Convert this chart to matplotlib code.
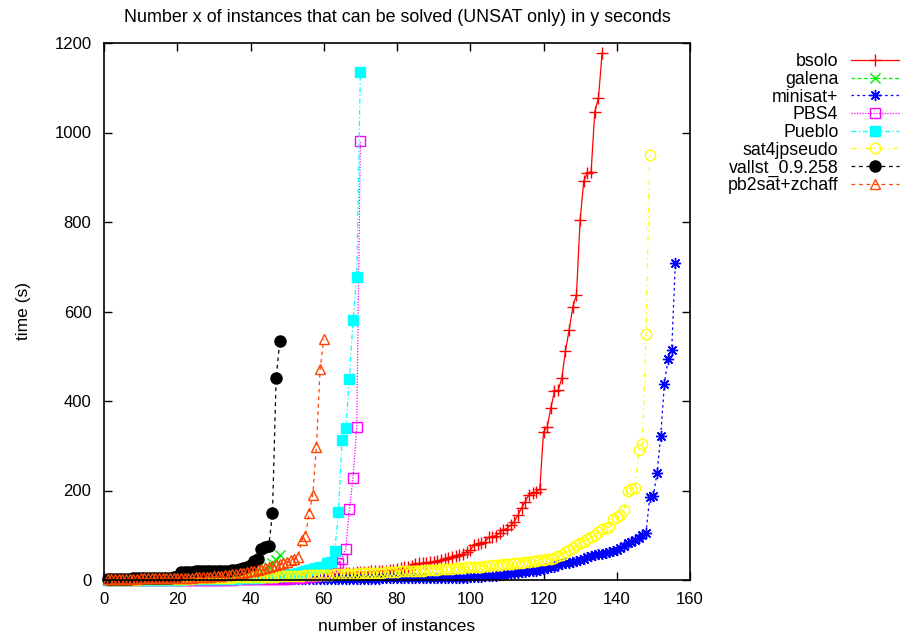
import matplotlib
matplotlib.use("Agg")
import matplotlib.pyplot as plt

# sorted solving times (s) per solver; x = number of instances solved
bsolo = [0.5, 0.6, 0.7, 0.8, 0.9, 1.0, 1.1, 1.2, 1.3, 1.5,
         1.6, 1.8, 2.0, 2.2, 2.4, 2.6, 2.8, 3.0, 3.2, 3.4,
         3.6, 3.8, 4.0, 4.2, 4.4, 4.6, 4.8, 5.0, 5.2, 5.4,
         5.6, 5.8, 6.0, 6.2, 6.4, 6.6, 6.8, 7.0, 7.2, 7.4,
         7.6, 7.8, 8.0, 8.2, 8.4, 8.6, 8.8, 9.0, 9.2, 9.5,
         9.8, 10.0, 10.3, 10.6, 11.0, 11.3, 11.6, 12.0, 12.3, 12.6,
         13.0, 13.5, 14.0, 14.5, 15.0, 15.5, 16.0, 16.5, 17.0, 17.5,
         18.0, 18.5, 19.0, 19.5, 20.0, 20.5, 21.0, 22.0, 23.0, 24.0,
         26, 28, 30, 32, 35, 37, 38, 39, 40, 41,
         42, 44, 46, 49, 52, 53, 55, 58, 63, 67,
         78, 80, 82, 85, 95, 97, 99, 105, 112, 115,
         122, 130, 145, 161, 175, 190, 194, 197, 203, 331,
         342, 384, 422, 424, 451, 512, 559, 610, 637, 804,
         892, 909, 912, 1046, 1077, 1177]

galena = [0.5, 0.6, 0.7, 0.8, 0.9, 1.0, 1.1, 1.2, 1.3, 1.4,
          1.5, 1.6, 1.7, 1.8, 1.9, 2.0, 2.1, 2.2, 2.3, 2.4,
          2.5, 2.6, 2.7, 2.8, 2.9, 3.0, 3.2, 3.4, 3.6, 3.8,
          4.0, 4.3, 4.6, 5.0, 5.5, 6.0, 7.0, 8.0, 9.0, 10,
          12, 15, 18, 22, 30, 38, 45, 56]

minisat = [0.1, 0.1, 0.1, 0.2, 0.2, 0.2, 0.2, 0.3, 0.3, 0.3,
           0.3, 0.4, 0.4, 0.4, 0.5, 0.5, 0.5, 0.6, 0.6, 0.6,
           0.7, 0.7, 0.7, 0.8, 0.8, 0.9, 0.9, 1.0, 1.0, 1.1,
           1.1, 1.2, 1.2, 1.3, 1.3, 1.4, 1.4, 1.5, 1.5, 1.6,
           1.6, 1.7, 1.7, 1.8, 1.8, 1.9, 1.9, 2.0, 2.0, 2.1,
           2.1, 2.2, 2.2, 2.3, 2.3, 2.4, 2.4, 2.5, 2.5, 2.6,
           2.6, 2.7, 2.7, 2.8, 2.8, 2.9, 2.9, 3.0, 3.0, 3.1,
           3.1, 3.2, 3.2, 3.3, 3.3, 3.4, 3.4, 3.5, 3.5, 3.6,
           3.6, 3.7, 3.7, 3.8, 3.8, 3.9, 3.9, 4.0, 4.0, 4.1,
           4.2, 4.3, 4.4, 4.5, 4.6, 4.8, 5.0, 5.2, 5.5, 6.0,
           6.5, 7.0, 7.5, 8.0, 9.0, 9.5, 10, 11, 12, 13,
           14, 15, 16, 17, 18, 19, 20, 21, 22, 24,
           26, 28, 30, 33, 35, 37, 39, 41, 43, 45,
           48, 52, 54, 56, 58, 59, 61, 63, 65, 68,
           72, 76, 82, 86, 89, 94, 101, 106, 186, 188,
           239, 322, 438, 494, 514, 708]

pbs4 = [0.01, 0.01, 0.02, 0.02, 0.03, 0.03, 0.04, 0.04, 0.05, 0.05,
        0.06, 0.07, 0.08, 0.09, 0.1, 0.1, 0.1, 0.2, 0.2, 0.2,
        0.2, 0.3, 0.3, 0.3, 0.4, 0.4, 0.5, 0.5, 0.6, 0.6,
        0.7, 0.8, 0.9, 1.0, 1.1, 1.2, 1.3, 1.4, 1.5, 1.6,
        1.7, 1.8, 1.9, 2.0, 2.2, 2.4, 2.6, 2.8, 3.0, 3.3,
        3.6, 4.0, 4.5, 5, 6, 7, 8, 10, 12, 15,
        18, 22, 28, 37, 48, 69, 158, 229, 341, 981]

pueblo = [0.1, 0.1, 0.2, 0.2, 0.3, 0.3, 0.4, 0.4, 0.5, 0.5,
          0.6, 0.6, 0.7, 0.7, 0.8, 0.8, 0.9, 0.9, 1.0, 1.0,
          1.1, 1.2, 1.3, 1.4, 1.5, 1.6, 1.7, 1.8, 1.9, 2.0,
          2.2, 2.4, 2.6, 2.8, 3.0, 3.2, 3.4, 3.6, 3.8, 4.0,
          5.0, 5.5, 6.0, 6.5, 7.0, 8.0, 9.0, 10, 11, 12,
          13, 14, 15, 17, 19, 22, 25, 27, 28, 30,
          37, 41, 65, 151, 313, 339, 449, 581, 678, 1136]

sat4j = [0.3, 0.4, 0.5, 0.6, 0.7, 0.8, 0.9, 1.0, 1.1, 1.2,
         1.3, 1.4, 1.5, 1.6, 1.7, 1.8, 1.9, 2.0, 2.2, 2.4,
         2.6, 2.8, 3.0, 3.2, 3.4, 3.6, 3.8, 4.0, 4.2, 4.4,
         4.6, 4.8, 5.0, 5.2, 5.4, 5.6, 5.8, 6.0, 6.2, 6.4,
         6.6, 6.8, 7.0, 7.2, 7.4, 7.6, 7.8, 8.0, 8.3, 8.6,
         8.9, 9.2, 9.5, 9.8, 10.1, 10.4, 10.7, 11.0, 11.3, 11.6,
         11.9, 12.2, 12.5, 12.8, 13.1, 13.4, 13.7, 14.0, 14.3, 14.6,
         14.9, 15.2, 15.5, 15.8, 16.0, 16.5, 17.0, 17.5, 18.0, 18.5,
         19.0, 19.0, 19.2, 19.5, 20.0, 20.5, 21.0, 21.5, 22.0, 22.5,
         23, 23.5, 24, 25, 25, 26, 26.5, 27, 28, 28,
         29, 30, 30, 31, 32, 33, 34, 34, 35, 35,
         36, 37, 38, 39, 40, 41, 42, 43, 44, 45,
         46, 48, 50, 53, 56, 62, 67, 72, 78, 82,
         86, 92, 96, 101, 108, 114, 116, 118, 136, 141,
         145, 156, 200, 203, 206, 290, 304, 550, 950]

vallst = [2.0, 2.2, 2.4, 2.6, 2.8, 3.0, 3.2, 3.4, 3.6, 3.8,
          4.0, 4.2, 4.4, 4.6, 4.8, 5.0, 5.2, 5.4, 5.6, 6.0,
          18, 18, 18.5, 18.5, 19, 19, 19, 19.5, 19.5, 20,
          20, 20.5, 21, 21, 21.5, 22, 24, 26, 28, 33,
          43, 48, 69, 73, 76, 149, 452, 533]

pb2sat = [2.5, 2.6, 2.7, 2.8, 2.9, 3.0, 3.1, 3.2, 3.3, 3.4,
          3.5, 3.6, 3.7, 3.8, 3.9, 4.0, 4.1, 4.2, 4.3, 4.4,
          4.6, 4.8, 5.0, 5.3, 5.6, 6.0, 6.5, 7.0, 7.5, 8.0,
          9, 10, 11, 12, 13, 14, 15, 16, 18, 19,
          21, 23, 25, 27, 29, 31, 34, 36, 38, 41,
          45, 48, 52, 89, 98, 149, 191, 298, 471, 538]

series = [
    ('bsolo', bsolo, '#ff0000', '+', 'full', '-', 8),
    ('galena', galena, '#00ee00', 'x', 'full', (0, (3, 2)), 7),
    ('minisat+', minisat, '#0000ff', (8, 2, 0), 'full', (0, (2, 2.5)), 8),
    ('PBS4', pbs4, '#ff00ff', 's', 'none', (0, (1, 1.2)), 7),
    ('Pueblo', pueblo, '#00ffff', 's', 'full', (0, (4, 2, 1, 2)), 7.5),
    ('sat4jpseudo', sat4j, '#ffff00', 'o', 'none', (0, (4, 3, 1, 3)), 7.5),
    ('vallst_0.9.258', vallst, '#000000', 'o', 'full', (0, (3, 3)), 8),
    ('pb2sat+zchaff', pb2sat, '#ff4500', '^', 'none', (0, (3, 3)), 7.5),
]

plt.rcParams['font.family'] = ['Liberation Sans', 'DejaVu Sans']

fig = plt.figure(figsize=(9.02, 6.39), dpi=100)
ax = fig.add_axes([104 / 902, 1 - 580 / 639, (690 - 104) / 902, (580 - 43) / 639])

for nombre, tiempos, color, marca, relleno, estilo, tam in series:
    xs = list(range(1, len(tiempos) + 1))
    ax.plot(xs, tiempos, color=color, linestyle=estilo, linewidth=0.9,
            marker=marca, markersize=tam, fillstyle=relleno,
            markeredgewidth=1.0, label=nombre, clip_on=False)

ax.set_xlim(0, 160)
ax.set_ylim(0, 1200)
ax.set_xticks(range(0, 161, 20))
ax.set_yticks(range(0, 1201, 200))
ax.tick_params(direction='in', length=6, width=1, top=True, right=True,
               labelsize=12, pad=9)
for s in ax.spines.values():
    s.set_linewidth(1.2)

ax.set_title('Number x of instances that can be solved (UNSAT only) in y seconds',
             fontsize=12.9, pad=15)
ax.set_xlabel('number of instances', fontsize=12.5, labelpad=8)
ax.set_ylabel('time (s)', fontsize=12.5, labelpad=17)

fig.legend(loc='upper right', bbox_to_anchor=(906 / 902, 1 - 46 / 639),
           frameon=False, markerfirst=False, fontsize=12.8, handlelength=2.7,
           handletextpad=0.7, labelspacing=0.04, borderaxespad=0)

fig.savefig('out.png', dpi=100)
